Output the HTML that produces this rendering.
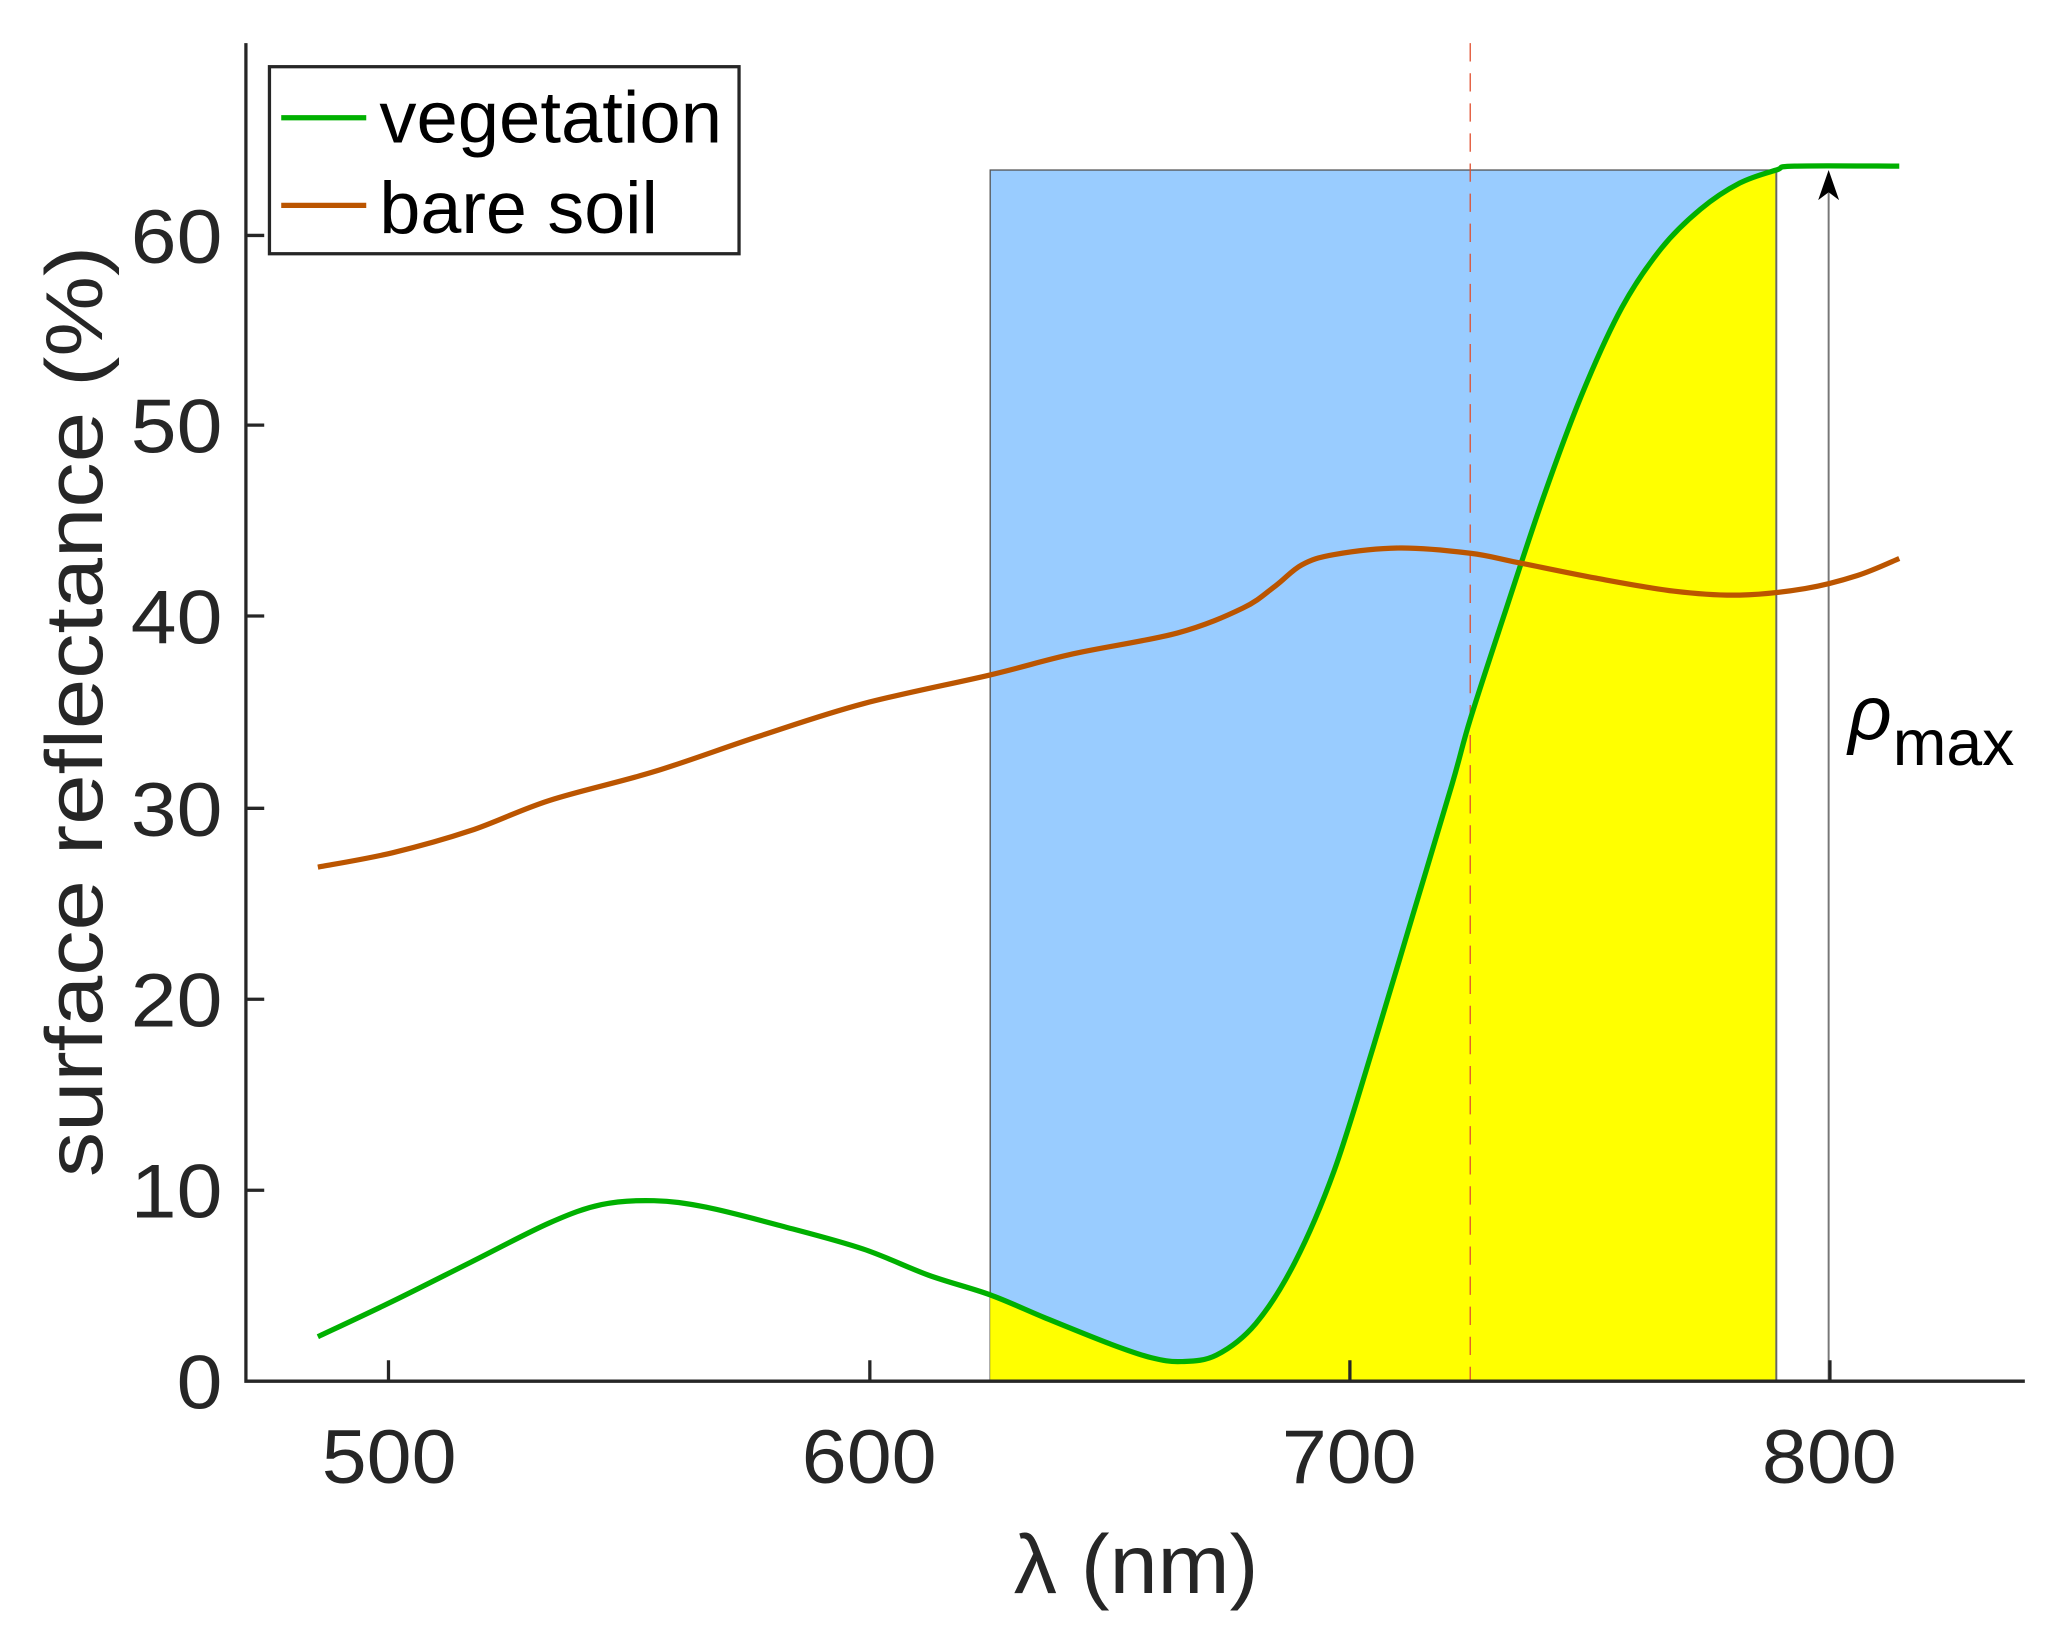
<!DOCTYPE html>
<html><head><meta charset="utf-8"><style>
html,body{margin:0;padding:0;background:#fff;}
svg{display:block;}
text{font-family:"Liberation Sans",sans-serif;fill:#262626;}
</style></head><body>
<svg width="2051" height="1648" viewBox="0 0 1568 1260" preserveAspectRatio="none" xmlns="http://www.w3.org/2000/svg">
<defs>
<clipPath id="c"><rect x="757" y="0" width="601" height="1056"/></clipPath>
</defs>
<rect x="757" y="130" width="601" height="926" fill="#99ccff" stroke="#555" stroke-width="1"/>
<path id="yel" clip-path="url(#c)" fill="#ffff00" d=""/>
<line x1="1358" y1="130" x2="1358" y2="1056" stroke="#666" stroke-width="1.5"/>
<line x1="1124" y1="33" x2="1124" y2="1056" stroke="#e05030" stroke-width="1" stroke-dasharray="14,9"/>
<line x1="1398" y1="1056" x2="1398" y2="140" stroke="#777" stroke-width="1.5"/>
<polygon points="1398,130 1390,153 1398,147 1406,153" fill="#000"/>
<path id="g" fill="none" stroke="#00b000" stroke-width="4" stroke-linejoin="round" d=""/>
<path id="b" fill="none" stroke="#bb5500" stroke-width="4" stroke-linejoin="round" d=""/>
<path d="M188,33 V1056 H1548" fill="none" stroke="#262626" stroke-width="2.5"/>
<g stroke="#262626" stroke-width="2.5">
<line x1="297" y1="1056" x2="297" y2="1040"/><line x1="665" y1="1056" x2="665" y2="1040"/><line x1="1032" y1="1056" x2="1032" y2="1040"/><line x1="1399" y1="1056" x2="1399" y2="1040"/>
<line x1="188" y1="910" x2="202" y2="910"/><line x1="188" y1="764" x2="202" y2="764"/><line x1="188" y1="618" x2="202" y2="618"/><line x1="188" y1="471" x2="202" y2="471"/><line x1="188" y1="325" x2="202" y2="325"/><line x1="188" y1="180" x2="202" y2="180"/>
</g>
<g font-size="58">
<text x="246" y="1134" textLength="103" lengthAdjust="spacingAndGlyphs">500</text>
<text x="613" y="1134" textLength="103" lengthAdjust="spacingAndGlyphs">600</text>
<text x="980" y="1134" textLength="103" lengthAdjust="spacingAndGlyphs">700</text>
<text x="1347" y="1134" textLength="103" lengthAdjust="spacingAndGlyphs">800</text>
</g>
<g font-size="58">
<text x="135" y="1077" textLength="35" lengthAdjust="spacingAndGlyphs">0</text>
<text x="100" y="931" textLength="70" lengthAdjust="spacingAndGlyphs">10</text>
<text x="100" y="785" textLength="70" lengthAdjust="spacingAndGlyphs">20</text>
<text x="100" y="639" textLength="70" lengthAdjust="spacingAndGlyphs">30</text>
<text x="100" y="492" textLength="70" lengthAdjust="spacingAndGlyphs">40</text>
<text x="100" y="346" textLength="70" lengthAdjust="spacingAndGlyphs">50</text>
<text x="100" y="201" textLength="70" lengthAdjust="spacingAndGlyphs">60</text>
</g>
<text x="775" y="1218" font-size="64" textLength="187" lengthAdjust="spacingAndGlyphs">λ (nm)</text>
<text transform="translate(78,900) rotate(-90)" font-size="62" textLength="712" lengthAdjust="spacingAndGlyphs">surface reflectance (%)</text>
<rect x="206" y="51" width="359" height="143" fill="#fff" stroke="#262626" stroke-width="2.5"/>
<line x1="215" y1="90" x2="280" y2="90" stroke="#00b000" stroke-width="4"/>
<line x1="215" y1="157" x2="280" y2="157" stroke="#bb5500" stroke-width="4"/>
<text x="290" y="109" font-size="56" style="fill:#000" textLength="262" lengthAdjust="spacingAndGlyphs">vegetation</text>
<text x="290" y="178" font-size="56" style="fill:#000" textLength="213" lengthAdjust="spacingAndGlyphs">bare soil</text>
<text x="1413" y="565" font-size="58" font-style="italic" style="fill:#000">ρ</text>
<text x="1447" y="585" font-size="50" style="fill:#000" textLength="93" lengthAdjust="spacingAndGlyphs">max</text>
</svg>
<script>
function smooth(p){var d="M"+p[0][0]+","+p[0][1];for(var i=0;i<p.length-1;i++){var p0=p[i-1]||p[i],p1=p[i],p2=p[i+1],p3=p[i+2]||p2;var c1x=p1[0]+(p2[0]-p0[0])/6,c1y=p1[1]+(p2[1]-p0[1])/6,c2x=p2[0]-(p3[0]-p1[0])/6,c2y=p2[1]-(p3[1]-p1[1])/6;d+=" C"+c1x+","+c1y+" "+c2x+","+c2y+" "+p2[0]+","+p2[1];}return d;}
var G=[[243,1022],[300,995],[360,965],[420,935],[460,921],[500,918],[540,923],[600,938],[660,955],[710,975],[757,990],[800,1008],[850,1028],[880,1038],[903,1041],[930,1036],[960,1012],[990,965],[1020,895],[1050,800],[1080,700],[1110,600],[1124,550],[1150,470],[1180,380],[1210,300],[1240,235],[1270,190],[1300,160],[1330,140],[1358,130],[1372,127],[1452,127]];
var B=[[243,663],[300,652],[360,635],[420,612],[500,590],[580,563],[660,538],[757,516],[820,500],[900,484],[950,465],[975,448],[995,432],[1020,424],[1070,419],[1124,423],[1160,430],[1220,442],[1280,452],[1330,455],[1380,450],[1420,440],[1452,427]];
var gd=smooth(G);
document.getElementById("g").setAttribute("d",gd);
document.getElementById("b").setAttribute("d",smooth(B));
document.getElementById("yel").setAttribute("d",gd+" L1452,1056 L243,1056 Z");
</script>
</body></html>
